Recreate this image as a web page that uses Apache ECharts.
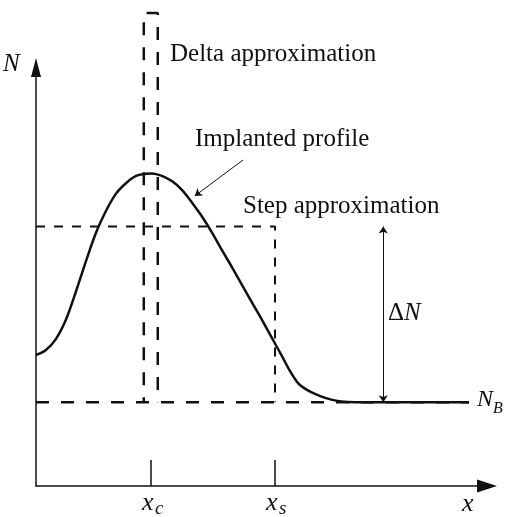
<!DOCTYPE html>
<html>
<head>
<meta charset="utf-8">
<script src="https://cdn.jsdelivr.net/npm/echarts@6/dist/echarts.min.js"></script>
<style>
  html, body { margin: 0; padding: 0; background: #fff; }
  #main { width: 508px; height: 517px; }
</style>
</head>
<body>
<div id="main"></div>
<script>
// depth axis and concentration axis run 0..100 (arbitrary units)
var profileX = [0, 2.2, 4.4, 6.7, 8.9, 11.1, 13.3, 15.5, 17.7, 20.0, 22.2, 24.4, 25.7,
                27.9, 30.2, 32.4, 34.6, 36.8, 39.0, 41.2, 43.5, 45.7, 47.9, 50.1, 52.3,
                54.6, 56.3, 58.1, 59.9, 62.1, 64.3, 66.5, 69.2, 72.3, 96];
var profileN = [31.3, 32.5, 35.1, 39.9, 46.6, 53.8, 60.5, 65.7, 69.8, 72.4, 74.1, 74.6, 74.7,
                74.1, 72.8, 70.7, 67.7, 64.4, 60.6, 56.4, 52.2, 48.0, 43.8, 39.7, 35.4,
                30.9, 27.5, 24.6, 23.1, 21.9, 21.0, 20.4, 20.1, 20, 20];

var xc = 25.5;       // centre of implant
var xs = 53;         // step edge
var NB = 20;         // background level
var stepN = 62;      // step approximation level
var deltaX = [23.9, 23.9, 27, 27];
var deltaN = [NB, 113, 113, NB];
var nbEnd = 96;
var dNx = 77;                    // where the delta-N arrow sits
var implantArrow = [[45.9, 77.9], [35.2, 69.3]];

var ink = '#111';
var serif = "'Liberation Serif', 'Times New Roman', serif";

function pairs(xs_, ys_) {
  return xs_.map(function (x, i) { return [x, ys_[i]]; });
}

var chart = echarts.init(document.getElementById('main'));

function txt(x, y, text, size, italic) {
  return {
    type: 'text', x: x, y: y, silent: true,
    style: {
      text: text, fill: ink, fontSize: size, fontFamily: serif,
      fontStyle: italic ? 'italic' : 'normal', verticalAlign: 'middle'
    }
  };
}

var option = {
  animation: false,
  grid: { left: 36, right: 21, top: 67.5, bottom: 31 },
  xAxis: {
    type: 'value', min: 0, max: 100,
    axisLine: { show: true, symbol: ['none', 'triangle'], symbolSize: [13, 20], lineStyle: { color: ink, width: 1.5 } },
    axisTick: { show: true, inside: true, length: 26, customValues: [xc, xs], lineStyle: { color: ink, width: 1.5 } },
    axisLabel: { show: false },
    splitLine: { show: false }
  },
  yAxis: {
    type: 'value', min: 0, max: 100,
    axisLine: { show: true, onZero: false, symbol: ['none', 'triangle'], symbolSize: [10, 19], lineStyle: { color: ink, width: 1.5 } },
    axisTick: { show: false },
    axisLabel: { show: false },
    splitLine: { show: false }
  },
  series: [
    {
      name: 'Implanted profile', type: 'line', smooth: 0.3, symbol: 'none', silent: true,
      lineStyle: { color: ink, width: 2.5 },
      data: pairs(profileX, profileN),
      markLine: {
        silent: true, symbol: ['none', 'arrow'], symbolSize: 7, label: { show: false },
        lineStyle: { color: ink, width: 1, type: 'solid' },
        data: [
          [{ coord: implantArrow[0] }, { coord: implantArrow[1] }],
          [{ coord: [dNx, stepN], symbol: 'arrow' }, { coord: [dNx, NB] }]
        ]
      }
    },
    {
      name: 'Delta approximation', type: 'line', symbol: 'none', clip: false, silent: true,
      lineStyle: { color: ink, width: 2.5, type: [13, 12], dashOffset: 8 },
      data: pairs(deltaX, deltaN)
    },
    {
      name: 'Step approximation', type: 'line', symbol: 'none', silent: true,
      lineStyle: { color: ink, width: 2, type: [9, 9] },
      data: [[0, stepN], [xs, stepN], [xs, NB]]
    },
    {
      name: 'NB', type: 'line', symbol: 'none', silent: true,
      lineStyle: { color: ink, width: 2.5, type: [13, 12] },
      data: [[0, NB], [nbEnd, NB]]
    }
  ],
  graphic: [
    txt(170, 54.5, 'Delta approximation', 25, false),
    txt(195, 139.5, 'Implanted profile', 25, false),
    txt(243, 206.5, 'Step approximation', 25, false),
    txt(388, 313, 'Δ', 25, false),
    txt(404, 313, 'N', 25, true),
    txt(3, 64.5, 'N', 25, true),
    txt(477, 399.5, 'N', 24, true),
    txt(493, 409, 'B', 16, true),
    txt(462, 504, 'x', 26, true),
    txt(142, 503, 'x', 26, true),
    txt(155, 509, 'c', 19, true),
    txt(266, 503, 'x', 26, true),
    txt(279, 509, 's', 19, true)
  ]
};

chart.setOption(option);
</script>
</body>
</html>
